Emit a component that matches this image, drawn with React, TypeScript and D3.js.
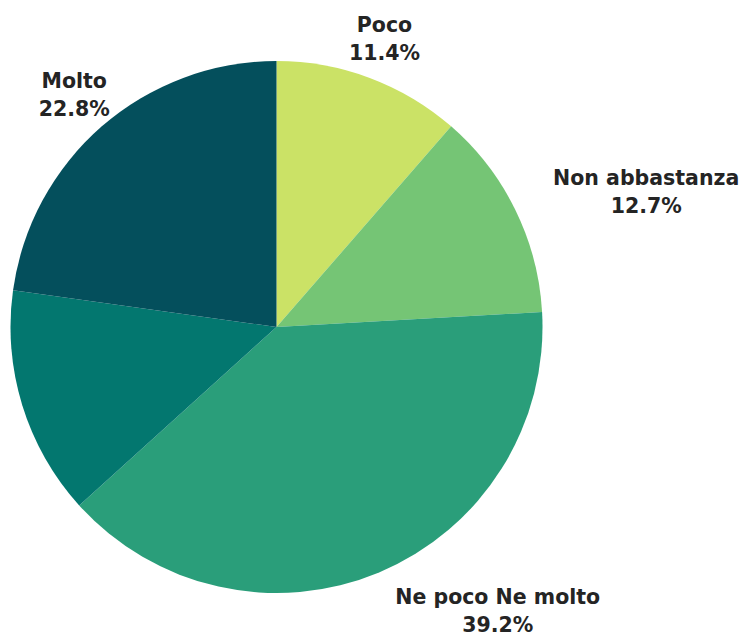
import React from "react";
import * as d3 from "d3";

const categories = ["Poco", "Non abbastanza", "Ne poco Ne molto", "Altro", "Molto"];
const values = [11.4, 12.7, 39.2, 13.9, 22.8];
const showLabel = [true, true, true, false, true];
const colors = ["#cbe266", "#75c575", "#2a9e7a", "#03776f", "#044f5c"];
const labelAnchors = ["middle", "start", "start", "middle", "middle"];

const W = 750;
const H = 636;
const cx = 276.5;
const cy = 327;
const R = 266;
const FONT = "'DejaVu Sans', Verdana, sans-serif";
const FS = 20.5;

export default function App() {
  const pie = d3.pie<number>().sort(null).value((d) => d);
  const arcs = pie(values);
  const arc = d3.arc<d3.PieArcDatum<number>>().innerRadius(0).outerRadius(R);
  const labelR = R * 1.158;
  return (
    <svg
      width={W}
      height={H}
      style={{ position: "absolute", left: 0, top: 0, display: "block", background: "#fff" }}
    >
      <g transform={`translate(${cx},${cy})`}>
        {arcs.map((a, i) => (
          <path key={i} d={arc(a) || ""} fill={colors[i]} />
        ))}
        {arcs.map((a, i) => {
          if (!showLabel[i]) return null;
          const mid = (a.startAngle + a.endAngle) / 2;
          const x = labelR * Math.sin(mid);
          const y = -labelR * Math.cos(mid);
          return (
            <Label key={"p" + i} x={x} y={y} name={categories[i]} pct={values[i]} anchor={labelAnchors[i]} />
          );
        })}
      </g>
    </svg>
  );
}

function Label(props: { x: number; y: number; name: string; pct: number; anchor: string }) {
  const ref = React.useRef<SVGTextElement>(null);
  const [cxPos, setCx] = React.useState<number | null>(null);
  React.useLayoutEffect(() => {
    const el = ref.current;
    if (!el) return;
    if (props.anchor === "start") {
      const w = el.getComputedTextLength();
      setCx(props.x + w / 2);
    } else {
      setCx(props.x);
    }
  }, [props.x, props.anchor, props.name]);
  return (
    <g>
      <text
        ref={ref}
        x={props.x}
        y={props.y - 7}
        textAnchor={props.anchor as any}
        fontFamily={FONT}
        fontWeight="bold"
        fontSize={FS}
        fill="#242424"
      >
        {props.name}
      </text>
      {cxPos !== null && (
        <text
          x={cxPos}
          y={props.y + 21}
          textAnchor="middle"
          fontFamily={FONT}
          fontWeight="bold"
          fontSize={FS}
          fill="#242424"
        >
          {props.pct.toFixed(1) + "%"}
        </text>
      )}
    </g>
  );
}
